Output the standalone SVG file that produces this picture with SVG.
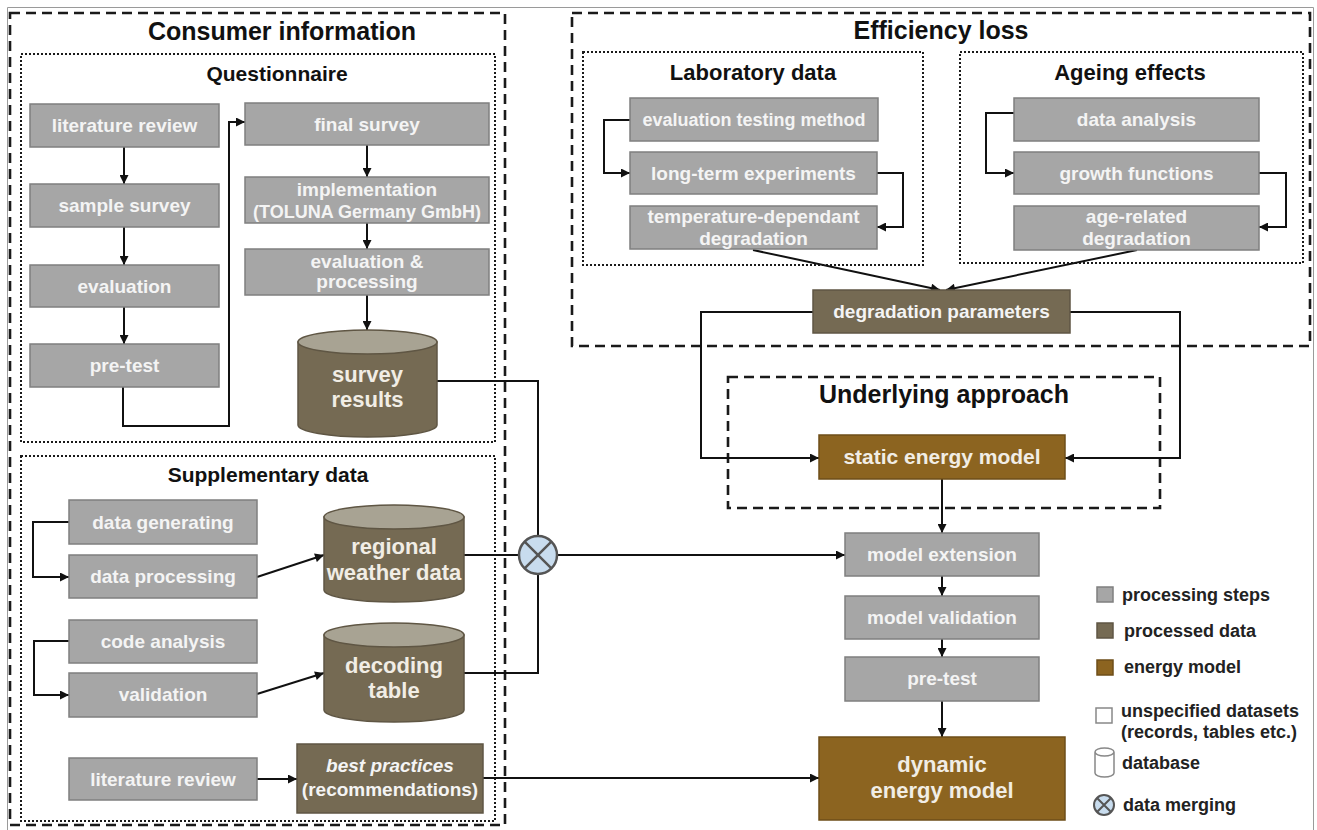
<svg xmlns="http://www.w3.org/2000/svg" width="1317" height="830" viewBox="0 0 1317 830">
<defs>
<style>
text{font-family:"Liberation Sans",Arial,sans-serif;font-weight:bold}
.ttl{font-size:25px;fill:#111;text-anchor:middle}
.sub{font-size:21px;fill:#111;text-anchor:middle}
.bx{font-size:19px;fill:#f4f4f4;text-anchor:middle}
.cy{font-size:22px;fill:#f1ede5;text-anchor:middle}
.lg{font-size:18px;fill:#222}
.step{fill:#a6a6a6;stroke:#7f7f7f;stroke-width:1.5}
.proc{fill:#756a53;stroke:#5f5644;stroke-width:1.5}
.cyltop{fill:#a8a393;stroke:#5f5644;stroke-width:1.5}
.energy{fill:#8c6420;stroke:#6e4e18;stroke-width:1.5}
.dash{fill:none;stroke:#1a1a1a;stroke-width:2.6;stroke-dasharray:10 6}
.dot{fill:none;stroke:#1a1a1a;stroke-width:2;stroke-dasharray:2 2}
.con{fill:none;stroke:#111;stroke-width:2}
.arr{marker-end:url(#ah)}
.merge{fill:#c8dcee;stroke:#555;stroke-width:2.5}
.mx{stroke:#555;stroke-width:2.5}
</style>
<marker id="ah" viewBox="0 0 10 10" refX="10" refY="5" markerWidth="11" markerHeight="9" markerUnits="userSpaceOnUse" orient="auto">
<path d="M0,0 L10,5 L0,10 z" fill="#111"/>
</marker>
</defs>
<rect width="1317" height="830" fill="#fff"/>
<path d="M7.5,830 V7.5 H1313.5 V830" fill="none" stroke="#9a9a9a" stroke-width="1"/>

<g id="groups">
<rect class="dash" x="10" y="13" width="495" height="812"/>
<text class="ttl" x="282" y="40">Consumer information</text>
<rect class="dot" x="21" y="54" width="474" height="388"/>
<text class="sub" x="277" y="81">Questionnaire</text>
<rect class="dot" x="21" y="456" width="474" height="365"/>
<text class="sub" x="268" y="482">Supplementary data</text>
<rect class="dash" x="572" y="13" width="738" height="333"/>
<text class="ttl" x="941" y="39">Efficiency loss</text>
<rect class="dot" x="583" y="52" width="340" height="213"/>
<text class="sub" x="753" y="80" style="font-size:22px">Laboratory data</text>
<rect class="dot" x="960" y="52" width="343" height="211"/>
<text class="sub" x="1130" y="80" style="font-size:22px">Ageing effects</text>
<rect class="dash" x="728" y="377" width="432" height="131"/>
<text class="ttl" x="944" y="403">Underlying approach</text>
</g>

<g id="connectors">
<path class="con arr" d="M124,147 V184"/>
<path class="con arr" d="M124,227 V265"/>
<path class="con arr" d="M124,307 V344"/>
<path class="con arr" d="M123,387 V426 H229 V122 H245"/>
<path class="con arr" d="M367,145 V177"/>
<path class="con arr" d="M367,223 V249"/>
<path class="con arr" d="M367,295 V330"/>
<path class="con" d="M437,381 H538 V536"/>
<path class="con" d="M464,673 H538 V574"/>
<path class="con" d="M464,555 H519"/>
<path class="con arr" d="M557,555 H845"/>
<path class="con arr" d="M69,522 H33 V577 H69"/>
<path class="con arr" d="M69,641 H34 V695 H69"/>
<path class="con arr" d="M257,577 L324,555"/>
<path class="con arr" d="M257,694 L324,673"/>
<path class="con arr" d="M257,779 H297"/>
<path class="con arr" d="M483,778 H819"/>
<path class="con arr" d="M630,120 H604 V173 H630"/>
<path class="con arr" d="M877,173 H903 V227 H877"/>
<path class="con arr" d="M1014,113 H986 V173 H1014"/>
<path class="con arr" d="M1259,173 H1286 V227 H1259"/>
<path class="con arr" d="M753,250 L940,290"/>
<path class="con arr" d="M1137,250 L946,290"/>
<path class="con arr" d="M813,312 H701 V458 H819"/>
<path class="con arr" d="M1070,312 H1180 V458 H1065"/>
<path class="con arr" d="M942,479 V533"/>
<path class="con arr" d="M942,576 V596"/>
<path class="con arr" d="M942,639 V657"/>
<path class="con arr" d="M942,701 V737"/>
</g>

<g id="q-literature-review"><rect class="step" x="30" y="104" width="189" height="43"/><text class="bx" x="124.5" y="132">literature review</text></g>
<g id="q-sample-survey"><rect class="step" x="30" y="184" width="189" height="43"/><text class="bx" x="124.5" y="212">sample survey</text></g>
<g id="q-evaluation"><rect class="step" x="30" y="265" width="189" height="42"/><text class="bx" x="124.5" y="293">evaluation</text></g>
<g id="q-pre-test"><rect class="step" x="30" y="344" width="189" height="43"/><text class="bx" x="124.5" y="372">pre-test</text></g>
<g id="q-final-survey"><rect class="step" x="245" y="103" width="244" height="42"/><text class="bx" x="367" y="131">final survey</text></g>
<g id="q-implementation"><rect class="step" x="245" y="177" width="244" height="46"/><text class="bx" x="367" y="196">implementation</text><text class="bx" x="367" y="218" style="font-size:18px">(TOLUNA Germany GmbH)</text></g>
<g id="q-eval-processing"><rect class="step" x="245" y="249" width="244" height="46"/><text class="bx" x="367" y="268">evaluation &amp;</text><text class="bx" x="367" y="288">processing</text></g>
<g id="survey-results">
<path class="proc" d="M298,342 V425 A69.5,12 0 0 0 437,425 V342 Z"/>
<ellipse class="cyltop" cx="367.5" cy="342" rx="69.5" ry="12"/>
<text class="cy" x="367.5" y="382">survey</text><text class="cy" x="367.5" y="407">results</text>
</g>

<g id="s-data-generating"><rect class="step" x="69" y="500" width="188" height="44"/><text class="bx" x="163" y="529">data generating</text></g>
<g id="s-data-processing"><rect class="step" x="69" y="555" width="188" height="43"/><text class="bx" x="163" y="583">data processing</text></g>
<g id="s-code-analysis"><rect class="step" x="69" y="620" width="188" height="43"/><text class="bx" x="163" y="648">code analysis</text></g>
<g id="s-validation"><rect class="step" x="69" y="673" width="188" height="44"/><text class="bx" x="163" y="701">validation</text></g>
<g id="s-literature-review"><rect class="step" x="69" y="758" width="188" height="42"/><text class="bx" x="163" y="786">literature review</text></g>
<g id="regional-weather-data">
<path class="proc" d="M324,517 V590 A70,12 0 0 0 464,590 V517 Z"/>
<ellipse class="cyltop" cx="394" cy="517" rx="70" ry="12"/>
<text class="cy" x="394" y="554">regional</text><text class="cy" x="394" y="580">weather data</text>
</g>
<g id="decoding-table">
<path class="proc" d="M324,635 V710 A70,12 0 0 0 464,710 V635 Z"/>
<ellipse class="cyltop" cx="394" cy="635" rx="70" ry="12"/>
<text class="cy" x="394" y="673">decoding</text><text class="cy" x="394" y="698">table</text>
</g>
<g id="best-practices"><rect class="proc" x="297" y="744" width="186" height="69"/><text class="bx" x="390" y="772" style="font-style:italic">best practices</text><text class="bx" x="390" y="796">(recommendations)</text></g>

<g id="merge">
<circle class="merge" cx="538" cy="555" r="19"/>
<path class="mx" d="M524.6,541.6 L551.4,568.4 M551.4,541.6 L524.6,568.4"/>
</g>

<g id="l-evaluation-testing"><rect class="step" x="630" y="98" width="248" height="43"/><text class="bx" x="754" y="126" style="font-size:18px">evaluation testing method</text></g>
<g id="l-long-term"><rect class="step" x="630" y="152" width="247" height="42"/><text class="bx" x="753.5" y="180">long-term experiments</text></g>
<g id="l-temperature"><rect class="step" x="630" y="206" width="247" height="43"/><text class="bx" x="753.5" y="223">temperature-dependant</text><text class="bx" x="753.5" y="245">degradation</text></g>
<g id="a-data-analysis"><rect class="step" x="1014" y="98" width="245" height="43"/><text class="bx" x="1136.5" y="126">data analysis</text></g>
<g id="a-growth"><rect class="step" x="1014" y="152" width="245" height="42"/><text class="bx" x="1136.5" y="180">growth functions</text></g>
<g id="a-age-related"><rect class="step" x="1014" y="206" width="245" height="44"/><text class="bx" x="1136.5" y="223">age-related</text><text class="bx" x="1136.5" y="245">degradation</text></g>
<g id="degradation-parameters"><rect class="proc" x="813" y="290" width="257" height="43"/><text class="bx" x="941.5" y="318">degradation parameters</text></g>

<g id="static-energy-model"><rect class="energy" x="819" y="435" width="246" height="44"/><text class="cy" x="942" y="464" style="font-size:21px">static energy model</text></g>
<g id="model-extension"><rect class="step" x="845" y="533" width="194" height="43"/><text class="bx" x="942" y="561">model extension</text></g>
<g id="model-validation"><rect class="step" x="845" y="596" width="194" height="43"/><text class="bx" x="942" y="624">model validation</text></g>
<g id="pre-test"><rect class="step" x="845" y="657" width="194" height="44"/><text class="bx" x="942" y="685">pre-test</text></g>
<g id="dynamic-energy-model"><rect class="energy" x="819" y="737" width="246" height="83"/><text class="cy" x="942" y="772">dynamic</text><text class="cy" x="942" y="798">energy model</text></g>

<g id="legend">
<rect class="step" x="1097" y="587" width="16" height="15"/><text class="lg" x="1122" y="601">processing steps</text>
<rect class="proc" x="1097" y="623" width="16" height="15"/><text class="lg" x="1124" y="637">processed data</text>
<rect class="energy" x="1097" y="660" width="16" height="15"/><text class="lg" x="1124" y="673">energy model</text>
<rect x="1096" y="708" width="16" height="15" fill="#fff" stroke="#888" stroke-width="1.5"/><text class="lg" x="1121" y="717">unspecified datasets</text><text class="lg" x="1121" y="738">(records, tables etc.)</text>
<path d="M1095,752 V773 A9.5,4 0 0 0 1114,773 V752 A9.5,4 0 0 0 1095,752 A9.5,4 0 0 0 1114,752" fill="#fff" stroke="#888" stroke-width="1.5"/><text class="lg" x="1122" y="769">database</text>
<circle class="merge" cx="1104" cy="805" r="10" style="stroke-width:2"/><path class="mx" d="M1097,798 L1111,812 M1111,798 L1097,812" style="stroke-width:2"/><text class="lg" x="1123" y="811">data merging</text>
</g>
</svg>
